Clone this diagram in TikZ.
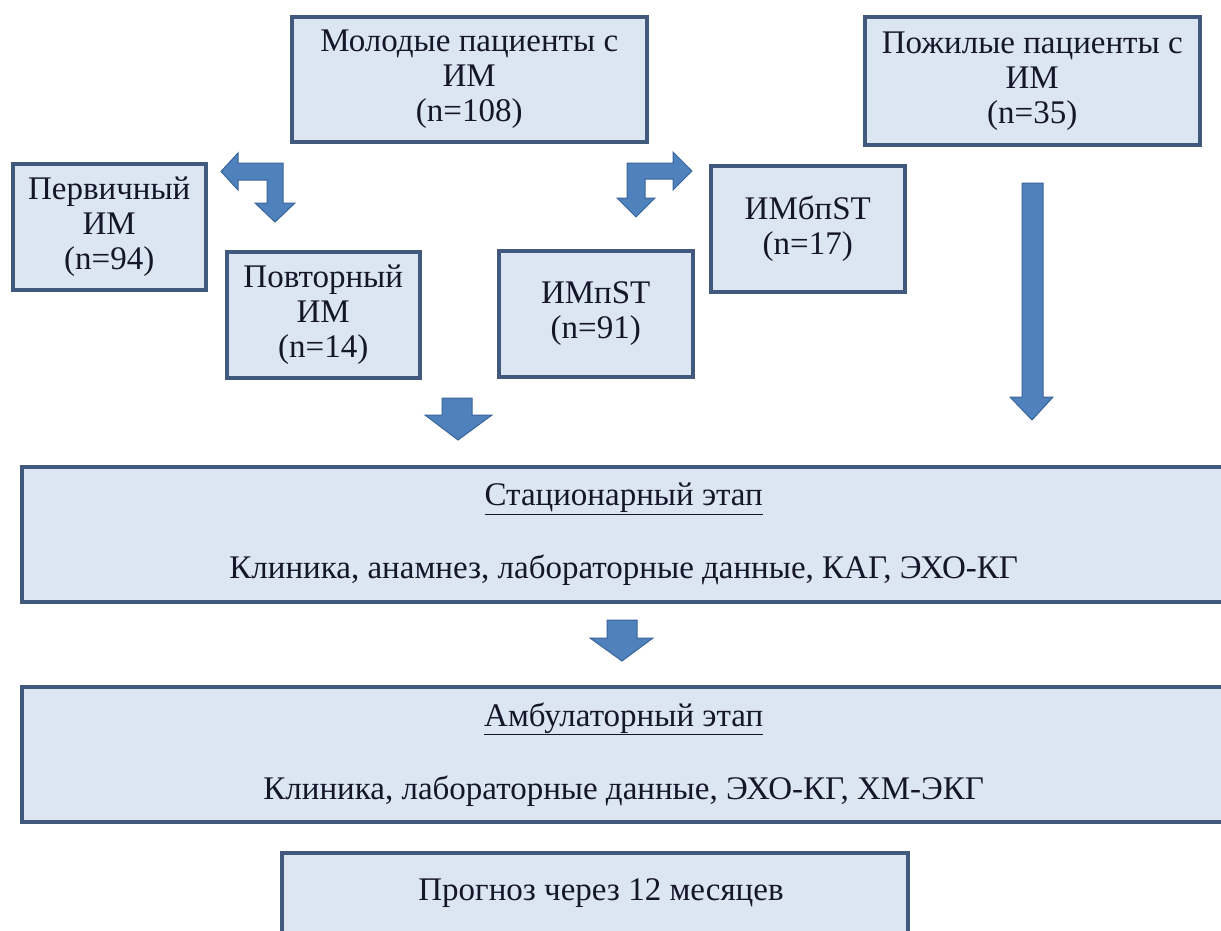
\documentclass[tikz,border=0pt]{standalone}
\usepackage{fontspec}
\setmainfont{Liberation Serif}
\definecolor{boxfill}{HTML}{DCE6F2}
\definecolor{boxline}{HTML}{41597D}
\definecolor{arrfill}{HTML}{4F81BD}
\definecolor{arrline}{HTML}{3A659A}
\definecolor{txt}{HTML}{16162A}
\begin{document}
\begin{tikzpicture}[x=1pt,y=-1pt,
  box/.style={draw=boxline,fill=boxfill,line width=3.5pt,align=center,
    text=txt,font=\fontsize{33}{35}\selectfont,inner sep=0pt,anchor=north west},
  blk/.style={fill=arrfill,draw=arrline,line width=1pt,line join=miter}]
\useasboundingbox (0,0) rectangle (1221,930);
% top boxes
\node[box,minimum width=355pt,minimum height=125pt] (young) at (290,15)
  {Молодые пациенты с\\ИМ\\(n=108)};
\node[box,minimum width=335pt,minimum height=128pt] (old) at (863,15)
  {Пожилые пациенты с\\ИМ\\(n=35)};
\node[box,minimum width=193pt,minimum height=126pt] (prim) at (11,162)
  {Первичный\\ИМ\\(n=94)};
\node[box,minimum width=193pt,minimum height=126pt] (rep) at (225,250)
  {Повторный\\ИМ\\(n=14)};
\node[box,minimum width=194pt,minimum height=126pt] (stemi) at (497,249)
  {ИМпST\\(n=91)};
\node[box,minimum width=194pt,minimum height=126pt] (nstemi) at (709,164)
  {ИМбпST\\(n=17)};
% wide boxes
\node[box,minimum width=1204pt,minimum height=135pt] (stat) at (20,465)
  {\underline{Стационарный этап}\\[38pt]Клиника, анамнез, лабораторные данные, КАГ, ЭХО-КГ};
\node[box,minimum width=1204pt,minimum height=135pt] (amb) at (20,685)
  {\underline{Амбулаторный этап}\\[38pt]Клиника, лабораторные данные, ЭХО-КГ, ХМ-ЭКГ};
\node[box,minimum width=626pt,minimum height=100pt,anchor=north west] (prog) at (280,851) {};
\node[text=txt,font=\fontsize{33}{35}\selectfont] (progt) at (601,893) {Прогноз через 12 месяцев};
% bent arrows
\path[blk] (221,171.5) -- (238,153) -- (238,163) -- (283,163) -- (283,203) -- (295,203)
  -- (275,222) -- (255,203) -- (267,203) -- (267,180) -- (238,180) -- (238,190) -- cycle;
\path[blk] (692,171) -- (673,152) -- (673,163) -- (627,163) -- (627,198) -- (617,198)
  -- (636,217) -- (655,198) -- (645,198) -- (645,179) -- (673,179) -- (673,190) -- cycle;
% straight arrows
\path[blk] (442,398) -- (472,398) -- (472,415) -- (492,415) -- (458,440) -- (425,415) -- (442,415) -- cycle;
\path[blk] (607,620) -- (637,620) -- (637,638) -- (653,638) -- (622,661) -- (590,638) -- (607,638) -- cycle;
\path[blk] (1022,183) -- (1043,183) -- (1043,397) -- (1053,397) -- (1032,420) -- (1010,397) -- (1022,397) -- cycle;
\end{tikzpicture}
\end{document}
